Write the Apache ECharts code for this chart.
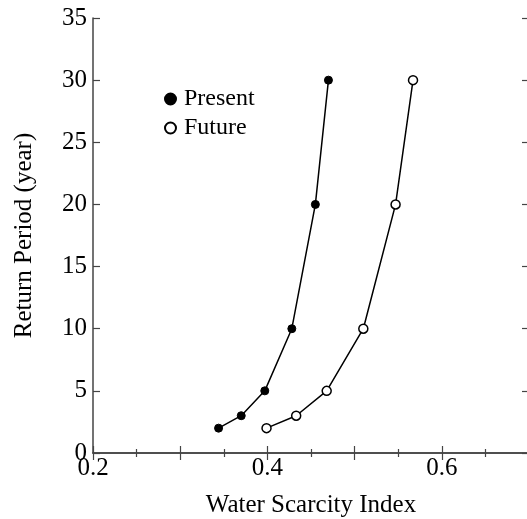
<!DOCTYPE html>
<html>
<head>
<meta charset="utf-8">
<script src="https://cdn.jsdelivr.net/npm/echarts@6/dist/echarts.min.js"></script>
<style>
  html, body { margin: 0; padding: 0; background: #fff; }
  #chart { width: 527px; height: 519px; }
</style>
</head>
<body>
<div id="chart"></div>
<script>
// Data
const returnPeriods = [2, 3, 5, 10, 20, 30];
const presentWSI = [0.344, 0.370, 0.397, 0.428, 0.455, 0.470];
const futureWSI  = [0.399, 0.433, 0.468, 0.510, 0.547, 0.567];
const seriesNames = ['Present', 'Future'];
const xTickLabels = ['0.2', '0.4', '0.6'];

const FONT = '"Liberation Serif", "Times New Roman", serif';
const AXIS_COLOR = '#444';

function pairs(xs, ys) { return xs.map((x, i) => [x, ys[i]]); }

const chart = echarts.init(document.getElementById('chart'), null, { renderer: 'canvas' });

const xCommon = {
  type: 'value', min: 0.2, max: 0.7, interval: 0.1,
  axisLine: { show: true, lineStyle: { color: AXIS_COLOR, width: 1.5 } },
  axisTick: { show: true, inside: true, length: 7, lineStyle: { color: AXIS_COLOR, width: 1.2 } },
  minorTick: { show: true, splitNumber: 2, length: 4, lineStyle: { color: AXIS_COLOR, width: 1.2 } },
  splitLine: { show: false }, minorSplitLine: { show: false }
};
const yCommon = {
  type: 'value', min: 0, max: 35, interval: 5,
  axisLine: { show: true, lineStyle: { color: AXIS_COLOR, width: 1.5 } },
  axisTick: { show: true, inside: true, length: 7, lineStyle: { color: AXIS_COLOR, width: 1.2 } },
  splitLine: { show: false }
};

chart.setOption({
  animation: false,
  backgroundColor: '#fff',
  textStyle: { fontFamily: FONT, color: '#000' },
  grid: { left: 93, top: 18, width: 436, height: 435, containLabel: false, outerBoundsMode: 'none' },
  legend: {
    left: 159, top: 82, orient: 'vertical', itemGap: 5,
    itemWidth: 11, itemHeight: 11,
    data: [
      { name: seriesNames[0], icon: 'circle' },
      { name: seriesNames[1], icon: 'circle' }
    ],
    textStyle: { fontFamily: FONT, fontSize: 24, color: '#000', padding: [0, 0, 0, 3] }
  },
  xAxis: [
    Object.assign({}, xCommon, {
      position: 'bottom',
      name: 'Water Scarcity Index', nameLocation: 'middle', nameGap: 40,
      nameTextStyle: { fontFamily: FONT, fontSize: 25, color: '#000' },
      axisLabel: { show: true, margin: 3, fontFamily: FONT, fontSize: 25, color: '#000',
        showMaxLabel: false,
        formatter: v => { const s = v.toFixed(1); return xTickLabels.indexOf(s) >= 0 ? s : ''; } }
    }),
    Object.assign({}, xCommon, { position: 'top', axisLabel: { show: false } })
  ],
  yAxis: [
    Object.assign({}, yCommon, {
      position: 'left',
      name: 'Return Period (year)', nameLocation: 'middle', nameGap: 56,
      nameTextStyle: { fontFamily: FONT, fontSize: 25, color: '#000' },
      axisLabel: { show: true, margin: 6, fontFamily: FONT, fontSize: 25, color: '#000' }
    }),
    Object.assign({}, yCommon, { position: 'right', axisLabel: { show: false } })
  ],
  series: [
    {
      name: seriesNames[0], type: 'line', xAxisIndex: 0, yAxisIndex: 0,
      data: pairs(presentWSI, returnPeriods),
      symbol: 'circle', symbolSize: 8, showAllSymbol: true,
      lineStyle: { color: '#000', width: 1.5 },
      itemStyle: { color: '#000', borderColor: '#000', borderWidth: 1 },
      z: 3
    },
    {
      name: seriesNames[1], type: 'line', xAxisIndex: 0, yAxisIndex: 0,
      data: pairs(futureWSI, returnPeriods),
      symbol: 'circle', symbolSize: 9, showAllSymbol: true,
      lineStyle: { color: '#000', width: 1.5 },
      itemStyle: { color: '#fff', borderColor: '#000', borderWidth: 1.5 },
      z: 3
    }
  ]
});
</script>
</body>
</html>
